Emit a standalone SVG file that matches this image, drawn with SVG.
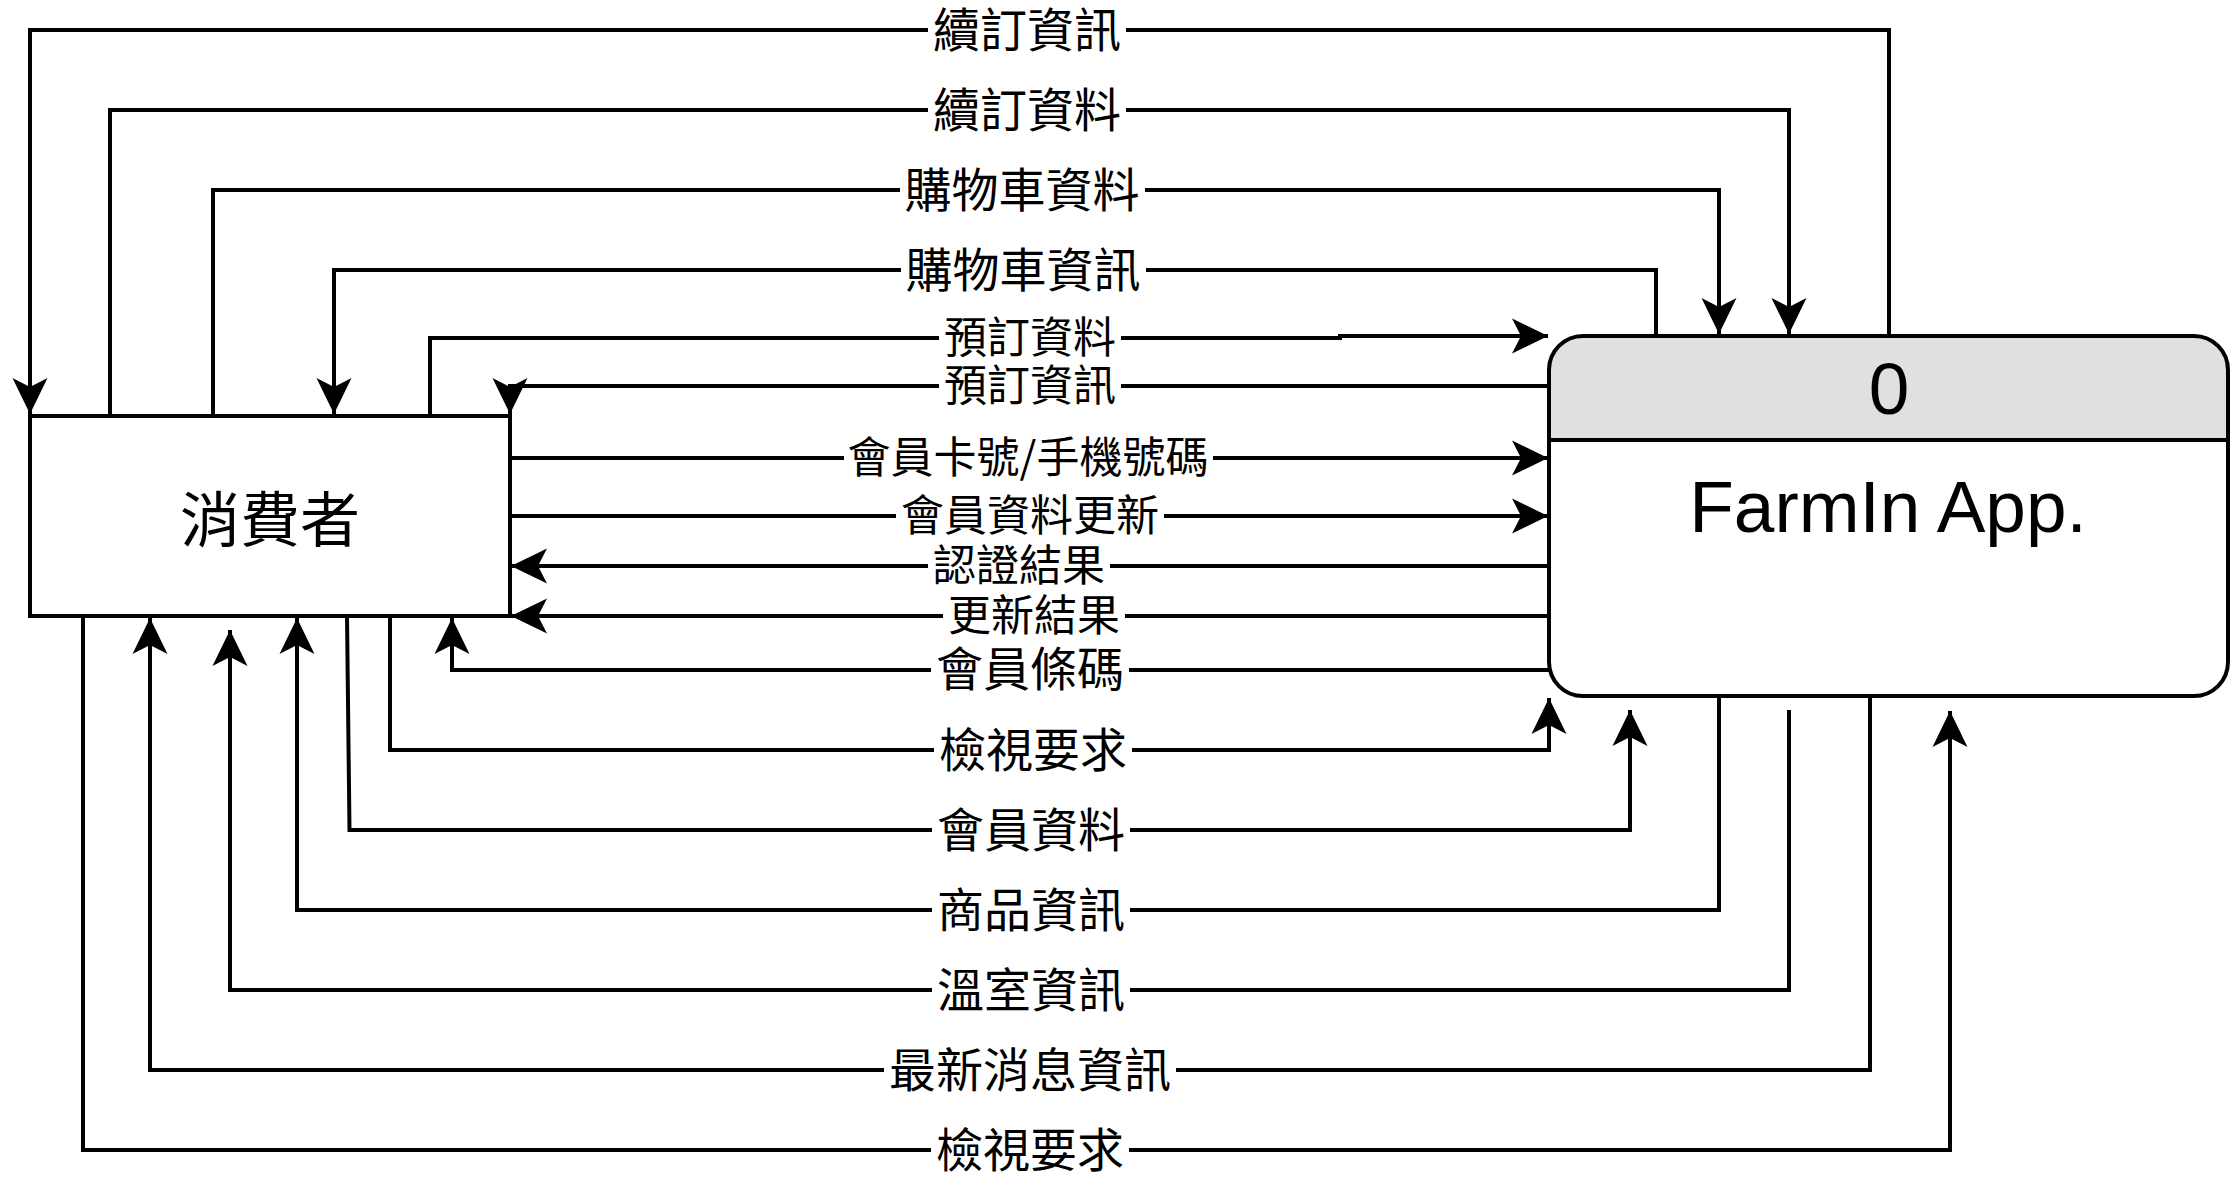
<svg xmlns="http://www.w3.org/2000/svg" width="2232" height="1184" viewBox="0 0 2232 1184">
  <style>
    .edge { fill: none; stroke: #000; stroke-width: 4; marker-end: url(#arrow); }
    .lbg { fill: #fff; }
    .lbl { font-family: "Noto Sans CJK TC", "Noto Sans CJK SC", sans-serif; font-size: 47px; fill: #000; text-anchor: middle; }
    .lbl.sm { font-size: 43px; }
    .node { fill: #fff; stroke: #000; stroke-width: 4; }
    .title { font-family: "Noto Sans CJK TC", sans-serif; font-size: 60px; text-anchor: middle; fill: #000; }
    .app { font-family: "Liberation Sans", Arial, sans-serif; font-size: 73px; text-anchor: middle; fill: #000; }
  </style>
  <defs>
    <marker id="arrow" markerUnits="userSpaceOnUse" markerWidth="40" markerHeight="40" viewBox="-38 -20 40 40" refX="0" refY="0" orient="auto" overflow="visible">
      <path d="M0 0 L-36 -17.5 L-27 0 L-36 17.5 Z" fill="#000"/>
    </marker>
  </defs>

  <rect width="2232" height="1184" fill="#fff"/>

  <!-- data flows -->
  <g id="connectors">
    <path class="edge" d="M1889 336 V30 H30 V414"/>
    <path class="edge" d="M110 416 V110 H1789 V334"/>
    <path class="edge" d="M213 416 V190 H1719 V334"/>
    <path class="edge" d="M1656 336 V270 H334 V414"/>
    <path class="edge" d="M438 416 H430 V338 H1340 V336 H1548"/>
    <path class="edge" d="M1549 386 H510 V414"/>
    <path class="edge" d="M510 458 H1548"/>
    <path class="edge" d="M510 516 H1548"/>
    <path class="edge" d="M1549 566 H511"/>
    <path class="edge" d="M1549 616 H511"/>
    <path class="edge" d="M1549 670 H452 V618"/>
    <path class="edge" d="M390 616 V750 H1549 V698"/>
    <path class="edge" d="M347 616 L349.5 830 H1630 V710"/>
    <path class="edge" d="M1719 696 V910 H297 V618"/>
    <path class="edge" d="M1789 710 V990 H230 V630"/>
    <path class="edge" d="M1870 696 V1070 H150 V618"/>
    <path class="edge" d="M83 616 V1150 H1950 V711"/>

    <!-- flow labels -->
    <g id="labels">
      <rect class="lbg" x="928" y="7" width="198" height="46"/>
      <text class="lbl" x="1027" y="47">續訂資訊</text>
      <rect class="lbg" x="928" y="87" width="198" height="46"/>
      <text class="lbl" x="1027" y="127">續訂資料</text>
      <rect class="lbg" x="900" y="167" width="245" height="46"/>
      <text class="lbl" x="1022" y="207">購物車資料</text>
      <rect class="lbg" x="901" y="247" width="245" height="46"/>
      <text class="lbl" x="1023" y="287">購物車資訊</text>
      <rect class="lbg" x="939" y="318" width="182" height="38"/>
      <text class="lbl sm" x="1030" y="353">預訂資料</text>
      <rect class="lbg" x="939" y="366" width="182" height="38"/>
      <text class="lbl sm" x="1030" y="401">預訂資訊</text>
      <rect class="lbg" x="844" y="438" width="369" height="40"/>
      <text class="lbl sm" x="1028" y="473">會員卡號/手機號碼</text>
      <rect class="lbg" x="896" y="496" width="268" height="40"/>
      <text class="lbl sm" x="1030" y="531">會員資料更新</text>
      <rect class="lbg" x="928" y="546" width="182" height="40"/>
      <text class="lbl sm" x="1019" y="581">認證結果</text>
      <rect class="lbg" x="943" y="596" width="182" height="40"/>
      <text class="lbl sm" x="1034" y="631">更新結果</text>
      <rect class="lbg" x="931" y="648" width="198" height="44"/>
      <text class="lbl" x="1030" y="686">會員條碼</text>
      <rect class="lbg" x="934" y="727" width="198" height="46"/>
      <text class="lbl" x="1033" y="767">檢視要求</text>
      <rect class="lbg" x="932" y="807" width="198" height="46"/>
      <text class="lbl" x="1031" y="847">會員資料</text>
      <rect class="lbg" x="932" y="887" width="198" height="46"/>
      <text class="lbl" x="1031" y="927">商品資訊</text>
      <rect class="lbg" x="932" y="967" width="198" height="46"/>
      <text class="lbl" x="1031" y="1007">溫室資訊</text>
      <rect class="lbg" x="884" y="1047" width="292" height="46"/>
      <text class="lbl" x="1030" y="1087">最新消息資訊</text>
      <rect class="lbg" x="931" y="1127" width="198" height="46"/>
      <text class="lbl" x="1030" y="1167">檢視要求</text>
    </g>
  </g>

  <!-- external entity -->
  <g id="consumer">
    <rect class="node" x="30" y="416" width="480" height="200"/>
    <text class="title" x="270" y="542">消費者</text>
  </g>

  <!-- process 0 -->
  <g id="process-0">
    <rect x="1549" y="336" width="679" height="360" rx="34" ry="34" fill="#fff"/>
    <path d="M1549 440 V370 A34 34 0 0 1 1583 336 H2194 A34 34 0 0 1 2228 370 V440 Z" fill="#e0e0e0"/>
    <line x1="1549" y1="440" x2="2228" y2="440" stroke="#000" stroke-width="4"/>
    <rect x="1549" y="336" width="679" height="360" rx="34" ry="34" fill="none" stroke="#000" stroke-width="4"/>
    <text class="app" x="1889" y="414">0</text>
    <text class="app" x="1888" y="532">FarmIn App.</text>
  </g>
</svg>
